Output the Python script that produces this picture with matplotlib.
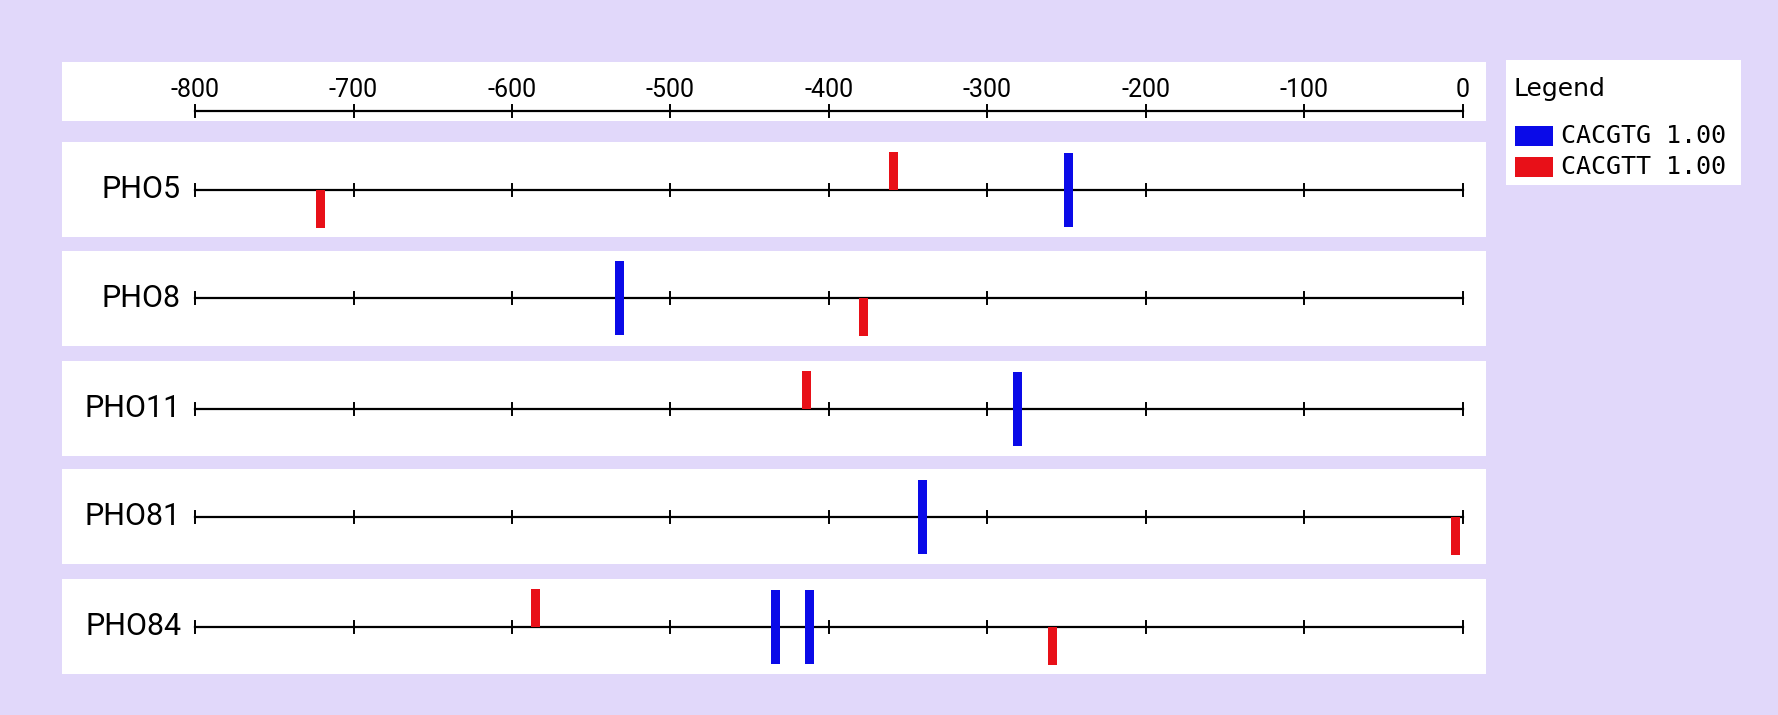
import matplotlib
matplotlib.use('Agg')
from matplotlib import pyplot as plt

# Motif hits per promoter (position relative to start, bp)
genes = ['PHO5', 'PHO8', 'PHO11', 'PHO81', 'PHO84']
cacgtg_pos = [[-249], [-532], [-281], [-341], [-434, -412]]
cacgtt_pos = [[-721, -359], [-378], [-414], [-5], [-585, -259]]
cacgtt_strand = [[-1, 1], [-1], [1], [-1], [1, -1]]
ticks = [-800, -700, -600, -500, -400, -300, -200, -100, 0]
legend_labels = ['CACGTG 1.00', 'CACGTT 1.00']

W, H = 1778, 715
BG = '#e1d8fa'
BLUE = '#0a0ae8'
RED = '#e81018'
LABEL_FONT = ['Roboto', 'DejaVu Sans']

fig = plt.figure(figsize=(W / 100, H / 100), dpi=100)
fig.patch.set_facecolor(BG)

panel_x0, panel_x1 = 62, 1486
x_m800, x_0 = 195, 1463
per_px = 800 / (x_0 - x_m800)
xlim = (-800 - (x_m800 - panel_x0) * per_px, (panel_x1 - x_0) * per_px)


def add_panel(y_top, y_bot, x0=panel_x0, x1=panel_x1):
    ax = fig.add_axes([x0 / W, 1 - y_bot / H, (x1 - x0) / W, (y_bot - y_top) / H])
    ax.set_facecolor('white')
    for s in ax.spines.values():
        s.set_visible(False)
    ax.set_xticks([])
    ax.set_yticks([])
    return ax


def draw_ruler(ax):
    ax.plot([ticks[0], ticks[-1]], [0, 0], color='black', lw=1.6, zorder=2)
    for t in ticks:
        ax.plot([t, t], [-6, 6], color='black', lw=1.4, zorder=2)


# top scale
ax = add_panel(62, 121)
ax.set_xlim(*xlim)
ax.set_ylim(-10, 49)
draw_ruler(ax)
for t in ticks:
    ax.text(t, 21, str(t), ha='center', va='center', fontsize=18,
            family=LABEL_FONT, color='black')

# one panel per gene
row_tops = [142, 251, 361, 469, 579]
for i, gene in enumerate(genes):
    top = row_tops[i]
    ax = add_panel(top, top + 95)
    ax.set_xlim(*xlim)
    ax.set_ylim(-47.5, 47.5)
    draw_ruler(ax)
    ax.text(-800 - 14 * per_px, 0, gene, ha='right', va='center', fontsize=22,
            family=LABEL_FONT, color='black')
    w = 9 * per_px
    ax.bar(cacgtg_pos[i], 74, width=w, bottom=-37, color=BLUE, zorder=3)
    for p, s in zip(cacgtt_pos[i], cacgtt_strand[i]):
        ax.bar(p, 38, width=w, bottom=0 if s > 0 else -38, color=RED, zorder=3)

# legend box
lax = fig.add_axes([1506 / W, 1 - 185 / H, (1741 - 1506) / W, (185 - 60) / H])
lax.set_facecolor('white')
for s in lax.spines.values():
    s.set_visible(False)
lax.set_xticks([])
lax.set_yticks([])
lax.set_xlim(0, 235)
lax.set_ylim(125, 0)
lax.text(8, 29, 'Legend', ha='left', va='center', fontsize=18, family='DejaVu Sans')
for j, (lab, col) in enumerate(zip(legend_labels, [BLUE, RED])):
    yc = 76 + j * 31
    lax.bar(28, 20, width=38, bottom=yc - 10, color=col)
    lax.text(55, yc, lab, ha='left', va='center', fontsize=18, family='DejaVu Sans Mono')

plt.savefig('out.png', dpi=100, facecolor=BG)
plt.close()
